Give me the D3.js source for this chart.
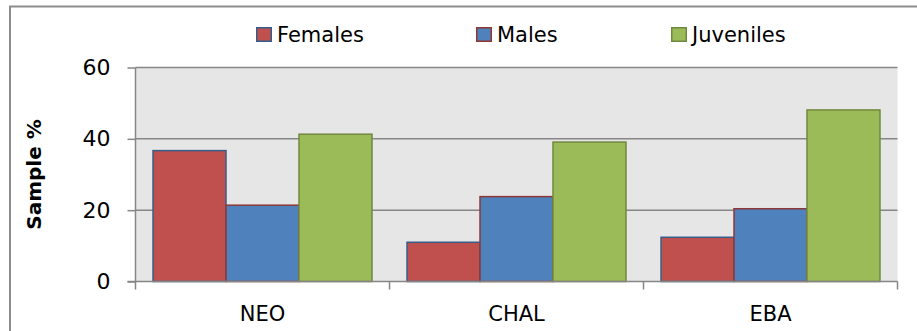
<!DOCTYPE html>
<html>
<head>
<meta charset="utf-8">
<script src="https://cdn.jsdelivr.net/npm/d3@7"></script>
<style>
body { margin: 0; background: #fff; }
svg { display: block; font-family: "DejaVu Sans", sans-serif; }
</style>
</head>
<body>
<svg id="chart" width="917" height="331"></svg>
<script>
var categories = ['NEO', 'CHAL', 'EBA'];
var seriesNames = ['Females', 'Males', 'Juveniles'];
var females = [36.7, 11.0, 12.4];
var males = [21.4, 23.8, 20.4];
var juveniles = [41.3, 39.1, 48.1];
var yTicks = [0, 20, 40, 60];

var fills = ['#c0504d', '#4f81bd', '#9bbb59'];
var strokes = ['#385d8a', '#8c3836', '#71893f'];

drawChart();

function drawChart() {
	var svg = d3.select('#chart');
	var pLeft = 135.5, pRight = 897.5, pTop = 67.5, pBottom = 281.5;

	var seriesValues = [females, males, juveniles];

	// outer frame
	svg.append('path')
		.attr('d', 'M10,331 L10,6.5 L917,6.5')
		.attr('fill', 'none')
		.attr('stroke', '#8c8c8c')
		.attr('stroke-width', 2);

	var xScale = d3.scaleBand().domain(categories).range([pLeft, pRight]);
	var inner = d3.scaleBand().domain(seriesNames).range([0, xScale.bandwidth()]).paddingOuter(0.24).paddingInner(0);
	var yScale = d3.scaleLinear().domain([0, 60]).range([pBottom, pTop]);

	// plot background
	svg.append('rect')
		.attr('x', pLeft).attr('y', pTop)
		.attr('width', pRight - pLeft).attr('height', pBottom - pTop)
		.attr('fill', '#e6e6e6');

	// gridlines
	svg.append('g').selectAll('line').data(yTicks.filter(function (d) { return d > 0; }))
		.enter().append('line')
		.attr('x1', pLeft).attr('x2', pRight)
		.attr('y1', function (d) { return yScale(d); })
		.attr('y2', function (d) { return yScale(d); })
		.attr('stroke', '#868686').attr('stroke-width', 1.5);

	// y axis
	var yAxis = d3.axisLeft(yScale).tickValues(yTicks).tickSize(8).tickPadding(17);
	var gy = svg.append('g').attr('transform', 'translate(' + pLeft + ',0)').call(yAxis);
	gy.selectAll('line').attr('stroke', '#868686').attr('stroke-width', 1.5);
	gy.select('.domain').attr('stroke', '#868686').attr('stroke-width', 1.5).attr('d', 'M0,' + pTop + 'V' + pBottom);
	gy.attr('font-size', 22).attr('font-family', null);
	gy.selectAll('text').attr('fill', '#000');

	// bars
	seriesValues.forEach(function (vals, s) {
		svg.append('g').selectAll('rect').data(vals).enter().append('rect')
			.attr('x', function (d, i) { return xScale(categories[i]) + inner(seriesNames[s]); })
			.attr('y', function (d) { return yScale(d); })
			.attr('width', inner.bandwidth())
			.attr('height', function (d) { return pBottom - yScale(d); })
			.attr('fill', fills[s])
			.attr('stroke', strokes[s])
			.attr('stroke-width', 1.5);
	});

	// x axis
	var xAxis = d3.axisBottom(xScale).tickSize(0).tickPadding(25);
	var gx = svg.append('g').attr('transform', 'translate(0,' + pBottom + ')').call(xAxis);
	gx.select('.domain').remove();
	gx.attr('font-size', 21).attr('font-family', null);
	gx.selectAll('text').attr('fill', '#000');
	svg.append('line').attr('x1', pLeft - 8).attr('x2', pRight).attr('y1', pBottom).attr('y2', pBottom)
		.attr('stroke', '#868686').attr('stroke-width', 1.5);
	var bounds = categories.map(function (c) { return xScale(c); }).concat([pRight]);
	svg.append('g').selectAll('line').data(bounds).enter().append('line')
		.attr('x1', function (d) { return d; }).attr('x2', function (d) { return d; })
		.attr('y1', pBottom).attr('y2', pBottom + 8)
		.attr('stroke', '#868686').attr('stroke-width', 1.5);

	// y title
	svg.append('text')
		.attr('transform', 'translate(41,' + ((pTop + pBottom) / 2) + ') rotate(-90)')
		.attr('text-anchor', 'middle')
		.attr('font-size', 20).attr('font-weight', 'bold')
		.text('Sample %');

	// legend
	var legendX = [256, 476, 671];
	var lg = svg.append('g').selectAll('g').data(seriesNames).enter().append('g')
		.attr('transform', function (d, i) { return 'translate(' + legendX[i] + ',27)'; });
	lg.append('rect').attr('x', 0.75).attr('y', 0.75).attr('width', 14.5).attr('height', 13.5)
		.attr('fill', function (d, i) { return fills[i]; })
		.attr('stroke', function (d, i) { return strokes[i]; })
		.attr('stroke-width', 1.5);
	lg.append('text').attr('x', 21).attr('y', 14.5).attr('font-size', 21)
		.text(function (d) { return d; });
}
</script>
</body>
</html>
